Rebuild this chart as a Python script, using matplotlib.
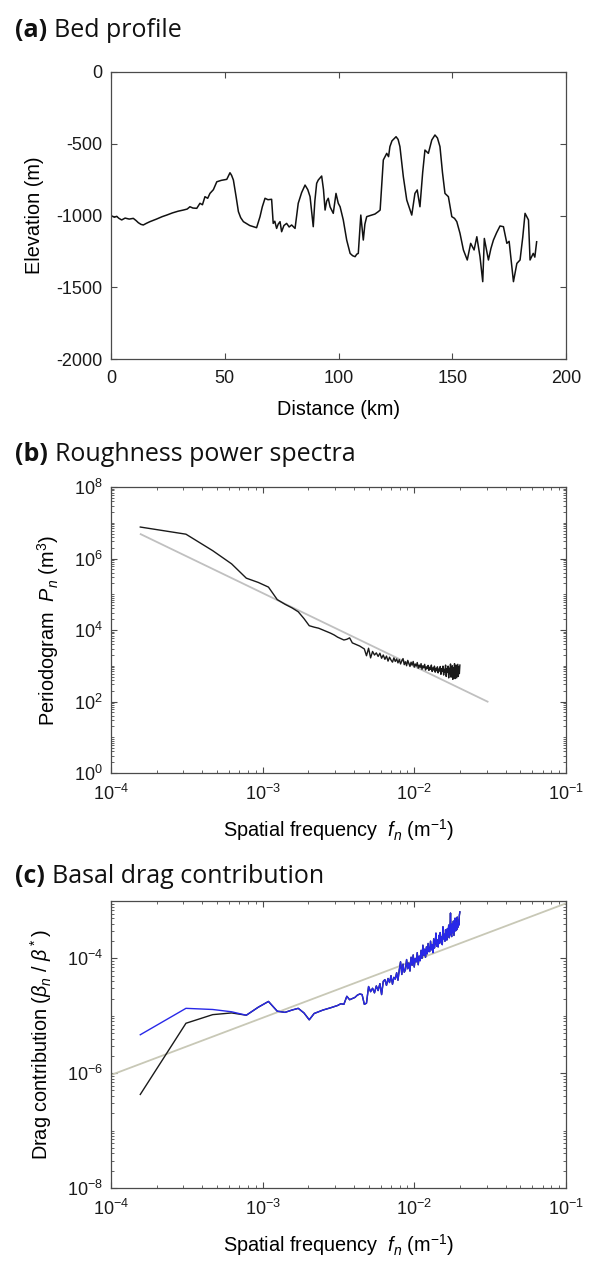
import numpy as np
import matplotlib
matplotlib.use("Agg")
import matplotlib.pyplot as plt
from matplotlib.ticker import LogLocator, FixedLocator, NullFormatter

plt.rcParams['font.family'] = ['Liberation Sans', 'DejaVu Sans']
plt.rcParams['mathtext.fontset'] = 'custom'
plt.rcParams['mathtext.rm'] = 'Liberation Sans'
plt.rcParams['mathtext.it'] = 'Liberation Sans:italic'
plt.rcParams['mathtext.bf'] = 'Liberation Sans:bold'
plt.rcParams['axes.unicode_minus'] = False

# ---- (a) bed profile ----
distance_km = [0.3, 1.5, 2.5, 3.5, 4.7, 6.2, 8.0, 9.8, 11.0, 12.0, 13.2, 14.2, 15.5, 17.1,
               20.0, 22.5, 24.5, 27.0, 29.5, 31.8, 33.5, 34.7, 36.0, 37.7, 39.1, 40.2, 41.3,
               42.5, 43.5, 45.0, 46.5, 48.5, 50.9, 51.6, 52.3, 53.0, 53.8, 55.0, 56.0, 57.0,
               58.2, 61.0, 64.0, 65.5, 66.5, 67.7, 69.0, 70.6, 71.3, 72.0, 72.8, 73.5, 74.3,
               75.0, 76.0, 77.2, 78.3, 79.4, 80.9, 82.3, 83.8, 85.3, 86.5, 87.5, 88.9, 89.6,
               90.4, 91.1, 92.6, 93.4, 94.1, 94.8, 95.5, 96.3, 97.7, 98.9, 99.9, 100.7, 102.1,
               103.6, 105.1, 106.2, 107.3, 108.0, 108.7, 109.8, 110.9, 111.6, 112.4, 114.0,
               116.0, 117.5, 118.3, 119.7, 121.2, 122.0, 122.6, 123.5, 125.3, 126.2, 127.0,
               128.5, 130.0, 132.2, 133.6, 134.6, 135.8, 137.0, 138.0, 139.5, 141.0, 142.4,
               143.5, 144.6, 145.7, 146.8, 148.3, 149.8, 151.0, 152.0, 153.4, 154.9, 156.6,
               158.1, 159.6, 160.8, 162.2, 163.4, 164.1, 165.9, 167.0, 168.1, 169.5, 171.0,
               172.5, 174.0, 175.0, 176.9, 178.4, 179.8, 181.0, 182.0, 183.5, 184.2, 185.6,
               186.3, 187.1]
elevation_m = [-1003, -1012, -1006, -1020, -1031, -1018, -1025, -1020, -1035, -1050, -1062,
               -1066, -1055, -1043, -1025, -1008, -997, -982, -970, -962, -955, -939, -948,
               -950, -915, -925, -869, -880, -846, -820, -765, -755, -748, -725, -702, -720,
               -753, -870, -973, -1015, -1043, -1070, -1085, -1008, -940, -880, -890, -887,
               -1055, -1040, -1090, -1060, -1043, -1113, -1070, -1055, -1080, -1066, -1090,
               -915, -840, -788, -820, -869, -1078, -900, -776, -753, -725, -820, -962, -900,
               -880, -940, -985, -846, -915, -939, -1031, -1171, -1264, -1280, -1287, -1270,
               -1264, -997, -1171, -1060, -1008, -1000, -990, -973, -962, -613, -567, -590,
               -520, -480, -451, -470, -520, -730, -892, -997, -846, -822, -939, -700, -544,
               -567, -474, -439, -460, -520, -700, -846, -869, -1008, -1020, -1043, -1124,
               -1240, -1310, -1194, -1240, -1148, -1287, -1461, -1160, -1310, -1230, -1171,
               -1120, -1073, -1078, -1194, -1180, -1461, -1334, -1310, -1150, -985, -1031,
               -1310, -1264, -1290, -1183]

# ---- (b) roughness power spectra (log10 of periodogram, harmonics n = 1..128) ----
harmonic = np.arange(1, 129)
freq_step = 1.56e-4   # m^-1
log_periodogram = [
    6.88, 6.68, 6.22, 5.85, 5.45, 5.33, 5.20, 4.85, 4.72, 4.62,
    4.51, 4.32, 4.12, 4.08, 4.05, 4.00, 3.95, 3.91, 3.86, 3.80,
    3.76, 3.72, 3.74, 3.78, 3.64, 3.61, 3.58, 3.55, 3.51, 3.47,
    3.28, 3.49, 3.22, 3.40, 3.30, 3.36, 3.26, 3.35, 3.21, 3.30,
    3.18, 3.27, 3.13, 3.24, 3.16, 3.10, 3.22, 3.12, 3.19, 3.08,
    3.17, 3.05, 3.14, 3.20, 3.03, 3.11, 3.00, 3.15, 3.06, 2.98,
    3.10, 3.02, 3.12, 2.96, 3.05, 2.99, 3.09, 2.93, 3.02, 2.95,
    3.06, 2.90, 3.00, 2.94, 3.04, 2.88, 2.97, 2.92, 3.01, 2.87,
    2.96, 2.90, 3.02, 2.84, 2.94, 2.88, 2.99, 2.82, 2.93, 2.86,
    2.97, 2.80, 2.91, 2.85, 2.98, 2.76, 2.92, 2.84, 2.99, 2.74,
    2.90, 2.83, 3.02, 2.70, 2.92, 2.82, 2.99, 2.66, 2.93, 2.78,
    3.05, 2.68, 2.88, 3.00, 2.62, 2.95, 2.76, 3.06, 2.64, 2.90,
    3.02, 2.66, 2.86, 3.04, 2.70, 2.98, 2.78, 3.02]
fit_b_freq = [1.57e-4, 3.04e-2]
fit_b_power = [4.79e6, 9.9e1]

# ---- (c) basal drag contribution (log10) ----
log_drag_blue = [
    -5.33, -4.87, -4.89, -4.93, -4.99, -4.85, -4.75, -4.92, -4.94, -4.90,
    -4.87, -4.95, -5.07, -4.96, -4.93, -4.90, -4.88, -4.86, -4.84, -4.82,
    -4.79, -4.80, -4.66, -4.72, -4.70, -4.68, -4.64, -4.62, -4.63, -4.80,
    -4.78, -4.49, -4.58, -4.52, -4.60, -4.48, -4.56, -4.44, -4.63, -4.40,
    -4.37, -4.47, -4.35, -4.42, -4.30, -4.45, -4.33, -4.36, -4.25, -4.38,
    -4.20, -4.06, -4.28, -4.10, -4.24, -4.20, -4.02, -4.18, -4.08, -4.22,
    -3.98, -4.12, -3.94, -4.15, -4.00, -4.06, -3.90, -4.11, -3.96, -4.04,
    -3.86, -4.00, -3.77, -3.95, -3.84, -3.98, -3.80, -3.92, -3.74, -3.88,
    -3.88, -3.70, -3.85, -3.76, -3.90, -3.66, -3.82, -3.72, -3.56, -3.79,
    -3.68, -3.80, -3.60, -3.74, -3.55, -3.71, -3.63, -3.76, -3.45, -3.66,
    -3.58, -3.70, -3.50, -3.62, -3.68, -3.48, -3.60, -3.42, -3.64, -3.52,
    -3.21, -3.58, -3.62, -3.40, -3.55, -3.35, -3.60, -3.44, -3.30, -3.52,
    -3.38, -3.50, -3.28, -3.46, -3.34, -3.42, -3.25, -3.19]
log_drag_black_low = [-6.37, -5.13, -4.98, -4.95, -4.99]
fit_c_freq = [1e-4, 1e-1]
fit_c_drag = [9.3e-7, 9.1e-4]

freq = harmonic * freq_step
drag_blue = 10.0 ** np.array(log_drag_blue)
drag_black = 10.0 ** np.array(log_drag_black_low + log_drag_blue[5:])

W, H = 590, 1265
fig = plt.figure(figsize=(W / 100, H / 100), dpi=100)
left, width = 111 / W, 455 / W
axa = fig.add_axes([left, 1 - 359 / H, width, 287 / H])
axb = fig.add_axes([left, 1 - 773 / H, width, 286 / H])
axc = fig.add_axes([left, 1 - 1188 / H, width, 287 / H])

TICK = 13
LAB = 14.3
spine_col = '#4a4a4a'


def style(ax):
    for s in ax.spines.values():
        s.set_color(spine_col)
        s.set_linewidth(0.9)
    ax.tick_params(which='both', direction='in', top=True, right=True,
                   colors=spine_col, labelcolor='#1a1a1a', labelsize=TICK)
    ax.tick_params(which='major', length=4.5, width=0.8)
    ax.tick_params(which='minor', length=2.2, width=0.6)
    ax.tick_params(axis='x', which='both', pad=8)
    ax.tick_params(axis='y', which='both', pad=6)
    ax.xaxis.labelpad = 9
    ax.yaxis.labelpad = 9


# (a)
axa.plot(distance_km, elevation_m, color='#111111', lw=1.1)
axa.set_xlim(0, 200)
axa.set_ylim(-2000, 0)
axa.set_xticks([0, 50, 100, 150, 200])
axa.set_yticks([-2000, -1500, -1000, -500, 0])
axa.set_xlabel('Distance (km)', fontsize=LAB)
axa.set_ylabel('Elevation (m)', fontsize=LAB)
style(axa)


def decade_labels(vals):
    return [r'$10^{%d}$' % int(round(np.log10(v))) for v in vals]


def log_axes(ax, yticks, ytop):
    ax.set_xscale('log')
    ax.set_yscale('log')
    ax.set_xlim(1e-4, 1e-1)
    ax.set_ylim(yticks[0], ytop)
    xt = [1e-4, 1e-3, 1e-2, 1e-1]
    ax.xaxis.set_major_locator(FixedLocator(xt))
    ax.set_xticklabels(decade_labels(xt))
    ax.xaxis.set_minor_locator(LogLocator(base=10, subs=np.arange(2, 10), numticks=50))
    ax.xaxis.set_minor_formatter(NullFormatter())
    ax.yaxis.set_major_locator(FixedLocator(yticks))
    ax.set_yticklabels(decade_labels(yticks))
    ax.yaxis.set_minor_locator(LogLocator(base=10, subs=np.arange(1, 10), numticks=50))
    ax.yaxis.set_minor_formatter(NullFormatter())
    style(ax)


# (b)
axb.plot(fit_b_freq, fit_b_power, color='#c0c0c0', lw=1.3)
axb.plot(freq, 10.0 ** np.array(log_periodogram), color='#1a1a1a', lw=1.0)
log_axes(axb, [1e0, 1e2, 1e4, 1e6, 1e8], 1e8)
axb.set_xlabel(r'Spatial frequency  $f_n$ (m$^{-1}$)', fontsize=LAB)
axb.set_ylabel(r'Periodogram  $P_n$ (m$^3$)', fontsize=LAB)

# (c)
axc.plot(fit_c_freq, fit_c_drag, color='#c8c8b6', lw=1.3)
axc.plot(freq, drag_black, color='#1a1a1a', lw=1.0)
axc.plot(freq, drag_blue, color='#2828e8', lw=1.0)
log_axes(axc, [1e-8, 1e-6, 1e-4], 1e-3)
axc.set_xlabel(r'Spatial frequency  $f_n$ (m$^{-1}$)', fontsize=LAB)
axc.set_ylabel(r'Drag contribution ($\beta_n$ / $\beta^*$)', fontsize=LAB)

# panel titles
renderer = fig.canvas.get_renderer()
for letter, txt, ybase in [('(a)', 'Bed profile', 37),
                           ('(b)', 'Roughness power spectra', 461),
                           ('(c)', 'Basal drag contribution', 883)]:
    t = fig.text(15 / W, 1 - ybase / H, letter, fontfamily=['Open Sans', 'DejaVu Sans'],
                 fontweight='bold', fontsize=18, va='baseline', color='#111111')
    bb = t.get_window_extent(renderer)
    fig.text((bb.x1 + 7) / W, 1 - ybase / H, txt, fontfamily=['Open Sans', 'DejaVu Sans'],
             fontsize=18, va='baseline', color='#111111')

fig.savefig('out.png', dpi=100, facecolor='white')
